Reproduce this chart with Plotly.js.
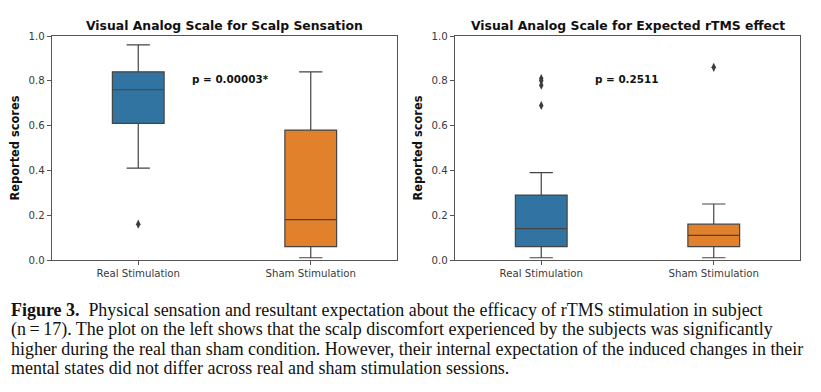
<!DOCTYPE html>
<html><head><meta charset="utf-8">
<script src="https://cdn.plot.ly/plotly-3.0.1.min.js"></script>
<style>html,body{margin:0;padding:0;background:#fff}#chart{width:821px;height:392px}</style>
</head><body><div id="chart"></div>
<script>
// Data
const categories = ["Real Stimulation", "Sham Stimulation"];
const yTicks = [0.0, 0.2, 0.4, 0.6, 0.8, 1.0];
const yTickLabels = ["0.0", "0.2", "0.4", "0.6", "0.8", "1.0"];

// Panel 1: Scalp sensation
const scalpLower = [0.41, 0.01];
const scalpQ1 = [0.61, 0.06];
const scalpMedian = [0.76, 0.18];
const scalpQ3 = [0.84, 0.58];
const scalpUpper = [0.96, 0.84];
const scalpOutliersReal = [0.16];
const scalpOutliersSham = [];
const scalpPText = "p = 0.00003*";

// Panel 2: Expected rTMS effect
const effectLower = [0.01, 0.01];
const effectQ1 = [0.06, 0.06];
const effectMedian = [0.14, 0.11];
const effectQ3 = [0.29, 0.16];
const effectUpper = [0.39, 0.25];
const effectOutliersReal = [0.81, 0.80, 0.78, 0.69];
const effectOutliersSham = [0.86];
const effectPText = "p = 0.2511";

const panelTitles = ["Visual Analog Scale for Scalp Sensation", "Visual Analog Scale for Expected rTMS effect"];
const yTitle = "Reported scores";
const captionLines = [
  "<b>Figure 3.</b>  Physical sensation and resultant expectation about the efficacy of rTMS stimulation in subject",
  "(n\u2009=\u200917). The plot on the left shows that the scalp discomfort experienced by the subjects was significantly",
  "higher during the real than sham condition. However, their internal expectation of the induced changes in their",
  "mental states did not differ across real and sham stimulation sessions."
];

const boxColors = ["#3274a1", "#e1812c"];
const lineColor = "#444444";

const W = 821, H = 392;
function px(x){return x/W;}
function py(y){return 1 - y/H;}

const traces = [];
function addPanel(ax, lower, q1, med, q3, upper, outs) {
  const xa = ax === 1 ? "x" : "x2", ya = ax === 1 ? "y" : "y2";
  for (let i = 0; i < categories.length; i++) {
    traces.push({
      type: "box", x: [categories[i]], q1: [q1[i]], median: [med[i]], q3: [q3[i]],
      lowerfence: [lower[i]], upperfence: [upper[i]],
      xaxis: xa, yaxis: ya, width: 0.3, whiskerwidth: 0.45,
      fillcolor: boxColors[i], line: {color: lineColor, width: 1.2},
      boxpoints: false, showlegend: false, hoverinfo: "skip"
    });
    const o = outs[i];
    if (o.length) {
      traces.push({
        type: "scatter", mode: "markers", x: o.map(() => categories[i]), y: o,
        xaxis: xa, yaxis: ya, showlegend: false, hoverinfo: "skip",
        marker: {symbol: "diamond-tall", size: 6.5, color: "#3d3d3d"}
      });
    }
  }
}
addPanel(1, scalpLower, scalpQ1, scalpMedian, scalpQ3, scalpUpper, [scalpOutliersReal, scalpOutliersSham]);
addPanel(2, effectLower, effectQ1, effectMedian, effectQ3, effectUpper, [effectOutliersReal, effectOutliersSham]);

const axisFont = {family: "DejaVu Sans", size: 10.2, color: "#3a3a3a"};
function xaxis(domain) {
  return {domain: domain, type: "category", range: [-0.5, 1.5], showgrid: false, zeroline: false,
    showline: true, mirror: true, linecolor: "#555", linewidth: 1.2,
    ticks: "outside", ticklen: 4, tickcolor: "#555", tickfont: axisFont, fixedrange: true};
}
function yaxis(domain, anchor) {
  return {domain: domain, anchor: anchor, range: [0, 1], tickvals: yTicks, ticktext: yTickLabels,
    showgrid: false, zeroline: false, showline: true, mirror: true, linecolor: "#555", linewidth: 1.2,
    ticks: "outside", ticklen: 4, tickcolor: "#555", tickfont: axisFont,
    title: {text: "<b>" + yTitle + "</b>", font: {family: "DejaVu Sans", size: 11.4, color: "#111"}, standoff: 6}};
}
const yDom = [py(260), py(36)];
const layout = {
  width: W, height: H, margin: {l: 0, r: 0, t: 0, b: 0},
  paper_bgcolor: "#fff", plot_bgcolor: "#fff", boxmode: "overlay",
  xaxis: Object.assign(xaxis([px(52), px(397)]), {anchor: "y"}),
  yaxis: yaxis(yDom, "x"),
  xaxis2: Object.assign(xaxis([px(455), px(800)]), {anchor: "y2"}),
  yaxis2: yaxis(yDom, "x2"),
  annotations: [
    {text: "<b>" + panelTitles[0] + "</b>", xref: "paper", yref: "paper", x: px(224.5), y: py(25), xanchor: "center", yanchor: "middle", showarrow: false, font: {family: "DejaVu Sans", size: 12.4, color: "#111"}},
    {text: "<b>" + panelTitles[1] + "</b>", xref: "paper", yref: "paper", x: px(627.5), y: py(25), xanchor: "center", yanchor: "middle", showarrow: false, font: {family: "DejaVu Sans", size: 12.4, color: "#111"}},
    {text: "<b>" + scalpPText + "</b>", xref: "x", yref: "y", x: 0.3, y: 0.81, xanchor: "left", yanchor: "middle", showarrow: false, font: {family: "DejaVu Sans", size: 10.4, color: "#111"}},
    {text: "<b>" + effectPText + "</b>", xref: "x2", yref: "y2", x: 0.3, y: 0.81, xanchor: "left", yanchor: "middle", showarrow: false, font: {family: "DejaVu Sans", size: 10.4, color: "#111"}}
  ]
};
const capY = [309.5, 329, 348.5, 368];
captionLines.forEach((t, i) => {
  layout.annotations.push({text: t, xref: "paper", yref: "paper", x: px(9), y: py(capY[i]), xanchor: "left", yanchor: "middle", showarrow: false,
    font: {family: "Liberation Serif", size: 17.95, color: "#111"}});
});
Plotly.newPlot("chart", traces, layout, {displayModeBar: false, staticPlot: true});
</script></body></html>
